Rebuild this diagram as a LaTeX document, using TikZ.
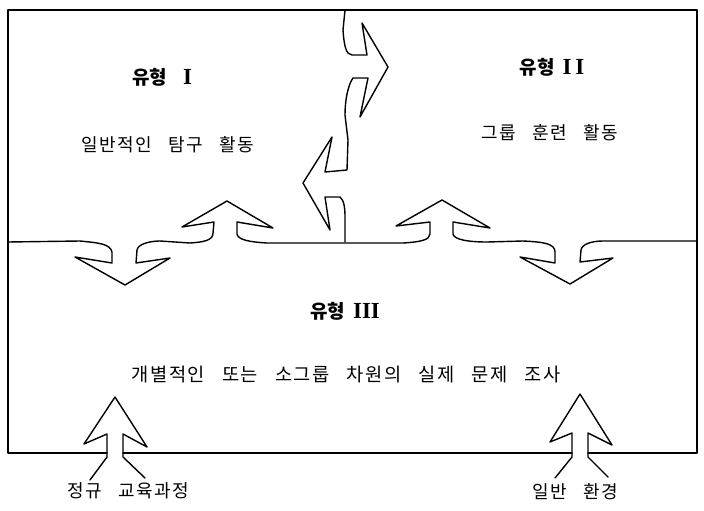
\documentclass[tikz,border=0pt]{standalone}
\usepackage{fontspec}
\newfontfamily\krfont[LetterSpace=8,WordSpace=3]{Noto Sans CJK KR}
\newfontfamily\krhead{Noto Sans CJK KR}
\newfontfamily\romanfont{Liberation Serif}
\newcommand{\romnum}[1]{{\fontsize{23}{23}\selectfont\romanfont\bfseries #1}}
\tikzset{
  frameline/.style={line width=1.4pt, line join=round, line cap=round},
  head/.style={inner sep=0pt, font=\fontsize{19}{19}\selectfont\krhead\bfseries},
  body/.style={inner sep=0pt, font=\fontsize{18}{18}\selectfont\krfont},
}
\begin{document}
\begin{tikzpicture}[x=1pt,y=-1pt]
\useasboundingbox (0,0) rectangle (704,511);
% outer frame (bottom line has gaps for the lower arrows)
\draw[frameline] (107,453) -- (8,453) -- (8,10) -- (697,10) -- (697,453) -- (588,453);
\draw[frameline] (123,453) -- (572,453);
% middle line with four arrows
\draw[frameline] (8,242) -- (80,241) .. controls (100,243) and (110,244) .. (112,252) -- (112,263) -- (75,257) -- (125,285) -- (170,258) -- (136,263) -- (137,250) .. controls (138,244) and (150,241) .. (160,241) -- (190,243) .. controls (205,242) and (213,240) .. (213,233) -- (214,222) -- (182,227) -- (227,201) -- (273,228) -- (237,222) -- (237,234) .. controls (238,240) and (250,242) .. (267,243) -- (403,243) .. controls (420,242) and (430,240) .. (430,234) -- (430,222) -- (396,226) -- (442,200) -- (490,228) -- (453,222) -- (453,234) .. controls (454,240) and (470,242) .. (487,242) -- (523,241) .. controls (545,242) and (555,244) .. (555,252) -- (555,263) -- (520,257) -- (570,284) -- (613,258) -- (580,262) -- (581,250) .. controls (582,244) and (592,241) .. (603,241) -- (697,241);
% vertical divider with two arrows
\draw[frameline] (345,10) -- (343,30) .. controls (344,45) and (346,55) .. (352,55) -- (367,55) -- (362,23) -- (388,67) -- (360,117) -- (368,78) -- (353,78) .. controls (348,85) and (345,100) .. (345,115) -- (348,140) -- (347,170) -- (325,172) -- (332,137) -- (303,183) -- (330,230) -- (325,197) -- (340,197) .. controls (344,200) and (345,208) .. (345,217) -- (345,242);
% lower arrows
\draw[frameline] (90,480) -- (107,457) -- (107,434) -- (84,444) -- (115,397) -- (147,447) -- (123,434) -- (123,457) -- (145,478);
\draw[frameline] (555,478) -- (572,457) -- (572,433) -- (550,442) -- (580,394) -- (612,445) -- (588,433) -- (588,457) -- (608,477);
% texts
\node[head] (h1) at (162,77) {유형\hspace{16pt}\romnum{I}};
\node[body] (b1) at (168,145) {일반적인 탐구 활동};
\node[head] (h2) at (552,67) {유형\hspace{8pt}\romnum{I\hspace{4pt}I}};
\node[body] (b2) at (550,133) {그룹 훈련 활동};
\node[head] (h3) at (345,311) {유형\hspace{8pt}\romnum{III}};
\node[body, font=\fontsize{18.7}{19}\selectfont\krfont] (b3) at (346,375) {개별적인 또는 소그룹 차원의 실제 문제 조사};
\node[body] (l1) at (128,491) {정규 교육과정};
\node[body] (l2) at (575,492) {일반 환경};
\end{tikzpicture}
\end{document}
